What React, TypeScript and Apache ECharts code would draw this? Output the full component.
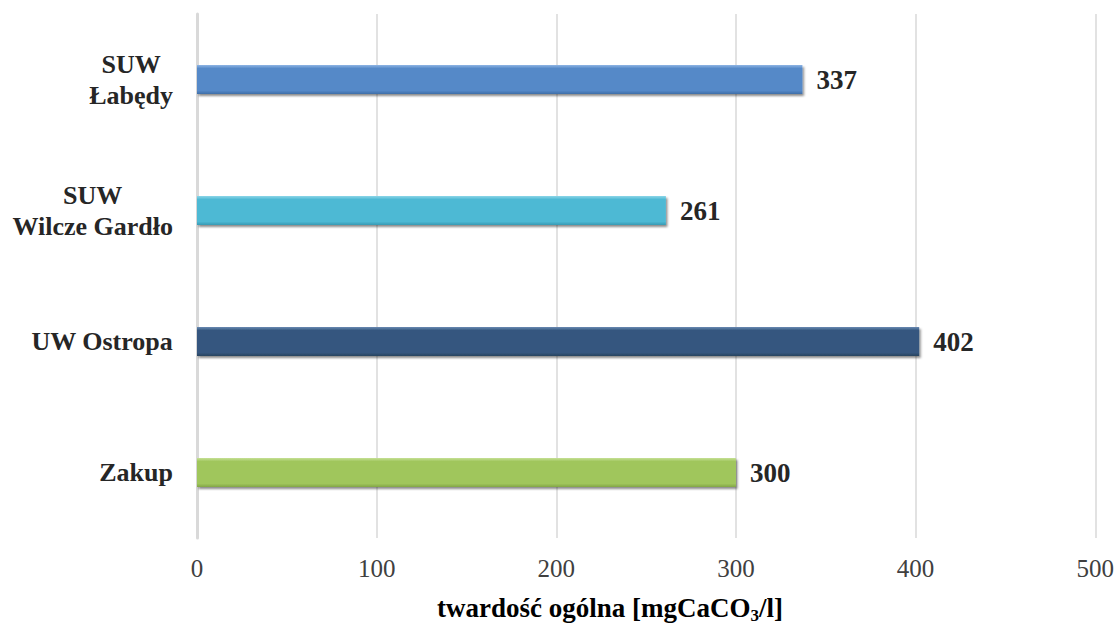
import React, { useEffect, useRef } from "react";
import * as echarts from "echarts";

const categories = ["SUW\nŁabędy", "SUW\nWilcze Gardło", "UW Ostropa", "Zakup"];
const values = [337, 261, 402, 300];
const barColors = ["#5589c8", "#4db9d4", "#34577f", "#a0c65c"];
const barTops = ["#8fb5e4", "#8cd6e8", "#6a8ab3", "#c6e096"];
const barBottoms = ["#406fa8", "#379ab4", "#27445f", "#82a646"];
const xTicks = [0, 100, 200, 300, 400, 500];

const FONT = "Liberation Serif, Times New Roman, serif";

export default function App() {
  const ref = useRef<HTMLDivElement>(null);

  useEffect(() => {
    document.body.style.margin = "0";
    const chart = echarts.init(ref.current!, undefined, { renderer: "svg" });

    const data = values.map((v, i) => ({
      value: v,
      itemStyle: {
        color: new echarts.graphic.LinearGradient(0, 0, 0, 1, [
          { offset: 0, color: barTops[i] },
          { offset: 0.12, color: barColors[i] },
          { offset: 0.88, color: barColors[i] },
          { offset: 1, color: barBottoms[i] },
        ]),
      },
    }));

    chart.setOption({
      animation: false,
      backgroundColor: "#ffffff",
      textStyle: { fontFamily: FONT },
      grid: { left: 197, right: 20, top: 14, bottom: 103, containLabel: false },
      xAxis: {
        type: "value",
        min: xTicks[0],
        max: xTicks[xTicks.length - 1],
        interval: 100,
        axisLine: { show: false },
        axisTick: { show: false },
        splitLine: { show: true, lineStyle: { color: "#d9d9d9", width: 1.5 } },
        axisLabel: {
          margin: 18,
          fontFamily: FONT,
          fontSize: 25,
          color: "#404040",
        },
      },
      yAxis: {
        type: "category",
        data: categories,
        inverse: true,
        axisLine: { show: true, lineStyle: { color: "#d9d9d9", width: 3 } },
        axisTick: { show: false },
        axisLabel: {
          margin: 24,
          formatter: (v: string) =>
            v
              .split("\n")
              .map((s) => `{c|${s}}`)
              .join("\n"),
          rich: {
            c: {
              align: "center",
              fontFamily: FONT,
              fontSize: 26,
              fontWeight: "bold",
              color: "#262626",
              lineHeight: 31,
            },
          },
        },
      },
      series: [
        {
          type: "bar",
          data,
          barWidth: 29,
          itemStyle: {
            shadowColor: "rgba(0,0,0,0.45)",
            shadowBlur: 2,
            shadowOffsetX: 1.5,
            shadowOffsetY: 2,
          },
          label: {
            show: true,
            position: "right",
            distance: 14,
            fontFamily: FONT,
            fontSize: 27,
            fontWeight: "bold",
            color: "#262626",
          },
        },
      ],
      graphic: [
        {
          type: "text",
          x: 610,
          y: 608,
          style: {
            text: "{b|twardość ogólna [mgCaCO}{s|3}{b|/l]}",
            align: "center",
            verticalAlign: "middle",
            rich: {
              b: {
                fontFamily: FONT,
                fontSize: 27,
                fontWeight: "bold",
                color: "#262626",
                lineHeight: 32,
              },
              s: {
                fontFamily: FONT,
                fontSize: 17,
                fontWeight: "bold",
                color: "#262626",
                lineHeight: 17,
                padding: [14, 0, 0, 0],
              },
            },
          },
        },
      ],
    });

    return () => chart.dispose();
  }, []);

  return (
    <div
      ref={ref}
      style={{ position: "absolute", left: 0, top: 0, width: 1117, height: 641 }}
    />
  );
}
